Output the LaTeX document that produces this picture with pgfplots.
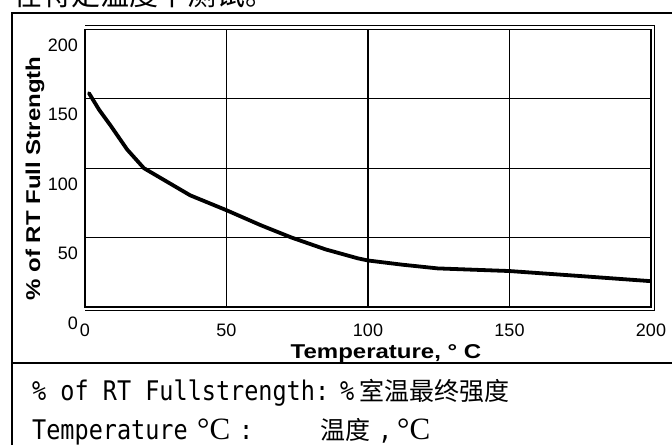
\documentclass[border=0pt]{standalone}
\usepackage{fontspec}
\setmainfont{Liberation Sans}
\newfontfamily\monofont{DejaVu Sans Mono}[FakeStretch=0.87]
\newfontfamily\cjk{Noto Sans CJK SC}
\newfontfamily\serifC{Liberation Serif}
\newfontfamily\lblfont{Liberation Sans}[FakeStretch=1.2]
\usepackage{pgfplots}
\pgfplotsset{compat=1.18}
\begin{document}
\begin{tikzpicture}[x=1pt,y=1pt]
\path[use as bounding box] (0,0) rectangle (672,445);
\clip (0,0) rectangle (672,445);
% top text (cut)
\node[anchor=base west, inner sep=0pt] at (13,439.7) {\cjk\fontsize{29pt}{29pt}\selectfont 在特定温度下测试。};
% outer box
\draw[line width=1.8pt] (12,0) -- (12,432) -- (672,432);
\draw[line width=2.5pt] (12,82) -- (672,82);
\begin{axis}[
  at={(85pt,138pt)}, anchor=south west, scale only axis,
  width=566pt, height=277.7pt,
  xmin=0, xmax=200, ymin=0, ymax=200,
  xtick={0,50,100,150,200}, ytick={0,50,100,150,200},
  grid=major, major grid style={black, line width=1.3pt},
  major tick length=0pt,
  axis line style={line width=1.6pt},
  /pgf/number format/assume math mode=true,
  ticklabel style={font=\fontsize{18pt}{18pt}\selectfont, inner sep=0pt},
  yticklabel style={anchor=east, xshift=-7pt, yshift=-16pt},
  xticklabel style={anchor=north, yshift=-17pt},
  ylabel={\lblfont\bfseries\fontsize{20pt}{20pt}\selectfont \% of RT Full Strength},
  ylabel style={at={(axis description cs:-0.0883,0.4627)}, anchor=center, rotate=0, inner sep=0pt},
  xlabel={\lblfont\bfseries\fontsize{20pt}{20pt}\selectfont Temperature, ° C},
  xlabel style={at={(axis description cs:0.5318,-0.1837)}, anchor=base, inner sep=0pt},
]
\addplot[black, line width=3.8pt, line join=round, line cap=round] coordinates {
 (1.4,154) (5,142) (9,130.8) (14.9,113.4) (20.8,100) (30,89) (37.2,80.4) (50,69.7)
 (62,59) (73,50) (85,41.5) (96.5,35) (100,33.5) (112,30.5) (124.6,27.8)
 (150,25.9) (175,22.3) (200,18.6)
};
\end{axis}
% double frame
\draw[line width=1pt] (85,419) -- (654.5,419) -- (654.5,134.5) -- (85,134.5);
% bottom legend text
\node[anchor=base west, inner sep=0pt] at (32,45) {\monofont\fontsize{27pt}{27pt}\selectfont \% of RT Fullstrength:};
\node[anchor=base west, inner sep=0pt] at (340,45) {\monofont\fontsize{27pt}{27pt}\selectfont \%};
\node[anchor=base west, inner sep=0pt] at (359,45) {\cjk\fontsize{25pt}{25pt}\selectfont 室温最终强度};
\node[anchor=base west, inner sep=0pt] at (32,6) {\monofont\fontsize{27pt}{27pt}\selectfont Temperature};
\node[anchor=base west, inner sep=0pt] at (197,6) {\serifC\fontsize{31pt}{31pt}\selectfont °C};
\node[anchor=base west, inner sep=0pt] at (239,6) {\monofont\fontsize{27pt}{27pt}\selectfont :};
\node[anchor=base west, inner sep=0pt] at (320,6) {\cjk\fontsize{25pt}{25pt}\selectfont 温度};
\node[anchor=base west, inner sep=0pt] at (378,6) {\monofont\fontsize{27pt}{27pt}\selectfont ,};
\node[anchor=base west, inner sep=0pt] at (397,6) {\serifC\fontsize{31pt}{31pt}\selectfont °C};
\end{tikzpicture}
\end{document}
